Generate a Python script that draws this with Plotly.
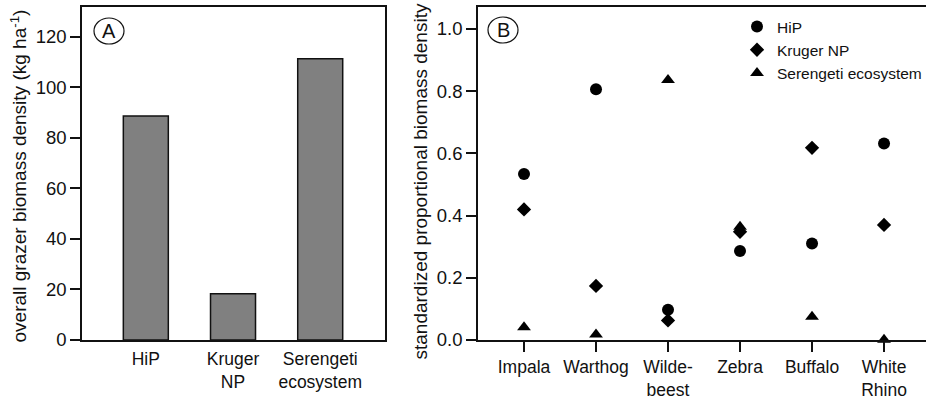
import plotly.graph_objects as go

# ---- data ----
sites = ["HiP", "Kruger<br>NP", "Serengeti<br>ecosystem"]
overall_biomass = [88.6, 18.3, 111.2]

species = ["Impala", "Warthog", "Wilde-<br>beest", "Zebra", "Buffalo", "White<br>Rhino"]
hip = [0.534, 0.806, 0.097, 0.286, 0.310, 0.632]
kruger = [0.420, 0.174, 0.063, 0.348, 0.618, 0.370]
serengeti = [0.041, 0.018, 0.836, 0.364, 0.075, 0.001]

FONT = "Liberation Sans, Arial, sans-serif"
W, H = 926, 400
ML, MR, MT, MB = 0, 0, 7, 60
PW, PH = W - ML - MR, H - MT - MB

def px(x):
    return (x - ML) / PW

def py(y):
    return (H - MB - y) / PH

fig = go.Figure()

fig.add_trace(go.Bar(
    x=sites, y=overall_biomass, width=0.516,
    marker=dict(color="#808080", line=dict(color="#111", width=1.5)),
    showlegend=False, xaxis="x", yaxis="y",
))

for name, vals, sym, size in [
    ("HiP", hip, "circle", 12),
    ("Kruger NP", kruger, "diamond", 11),
    ("Serengeti ecosystem", serengeti, "triangle-up", 12),
]:
    fig.add_trace(go.Scatter(
        x=species, y=vals, mode="markers", name=name,
        marker=dict(symbol=sym, size=size, color="black", line=dict(width=0)),
        cliponaxis=False, xaxis="x2", yaxis="y2",
    ))

axis_common = dict(
    showgrid=False, zeroline=False, showline=True, linecolor="#111", linewidth=1.5,
    automargin=False,
)
yfont = dict(family=FONT, size=18.5, color="#111")
xfont = dict(family=FONT, size=17.5, color="#111")

fig.update_layout(
    width=W, height=H,
    margin=dict(l=ML, r=MR, t=MT, b=MB, autoexpand=False),
    paper_bgcolor="white", plot_bgcolor="white",
    font=dict(family=FONT, color="#111"),
    xaxis=dict(domain=[px(82), px(385)], range=[-0.732, 2.743], mirror=True,
               ticks="outside", ticklen=2, tickcolor="rgba(0,0,0,0)",
               tickfont=xfont, type="category", anchor="y", **axis_common),
    yaxis=dict(domain=[0, 1], range=[0, 131.7], mirror=True, ticks="outside",
               ticklen=10, tickwidth=1.5, tickcolor="#111", tickfont=yfont,
               tickvals=[0, 20, 40, 60, 80, 100, 120], anchor="x", **axis_common),
    xaxis2=dict(domain=[px(478), 1.0], range=[-0.639, 5.583], mirror=True,
                ticks="outside", ticklen=10, tickwidth=1.5, tickcolor="#111",
                tickfont=xfont, type="category", anchor="y2", **axis_common),
    yaxis2=dict(domain=[0, 1], range=[0, 1.0707], ticks="outside", ticklen=10,
                tickwidth=1.5, tickcolor="#111", tickfont=yfont,
                tickvals=[0, 0.2, 0.4, 0.6, 0.8, 1.0], tickformat=".1f",
                anchor="x2", **axis_common),
    legend=dict(x=px(737), y=py(10), xanchor="left", yanchor="top",
                font=dict(family=FONT, size=15.5, color="#111"),
                bgcolor="rgba(0,0,0,0)", borderwidth=0, tracegroupgap=0),
)

# axis titles
fig.add_annotation(text="overall grazer biomass density (kg ha<sup>-1</sup>)",
                   x=px(18), y=py(176.5), xref="paper", yref="paper",
                   xanchor="center", yanchor="middle",
                   textangle=-90, showarrow=False,
                   font=dict(family=FONT, size=19, color="#111"))
fig.add_annotation(text="standardized proportional biomass density",
                   x=px(420), y=py(181.5), xref="paper", yref="paper",
                   xanchor="center", yanchor="middle",
                   textangle=-90, showarrow=False,
                   font=dict(family=FONT, size=19, color="#111"))

# panel labels
for lab, cx, cy in [("A", 109, 31), ("B", 503, 30)]:
    fig.add_shape(type="circle", xref="paper", yref="paper",
                  xsizemode="pixel", ysizemode="pixel",
                  xanchor=px(cx), yanchor=py(cy),
                  x0=-15, x1=15, y0=-13, y1=13,
                  line=dict(color="#111", width=1.2))
    fig.add_annotation(text=lab, x=px(cx), y=py(cy), xref="paper", yref="paper",
                       xanchor="center", yanchor="middle",
                       showarrow=False, font=dict(family=FONT, size=20, color="#111"))

fig.write_html("out.html")
